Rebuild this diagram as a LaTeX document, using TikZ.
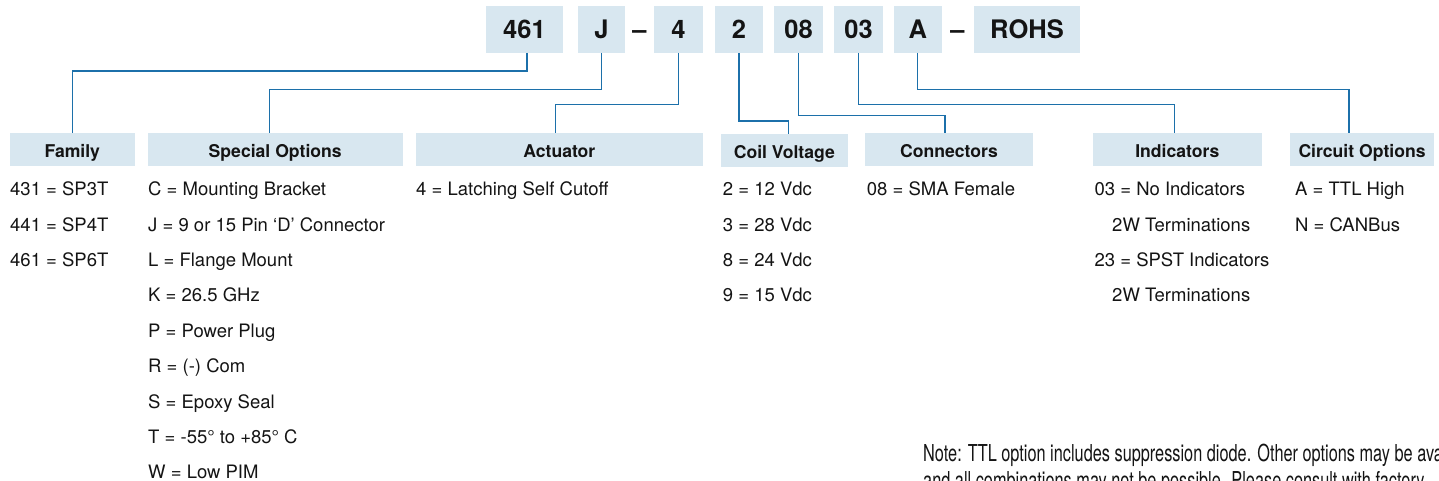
\documentclass[tikz,border=0pt]{standalone}
\usepackage{fontspec}
\setmainfont{TeX Gyre Heros}
\newfontfamily\notefont[FakeStretch=0.7]{TeX Gyre Heros}
\usetikzlibrary{calc}
\definecolor{boxfill}{RGB}{216,231,240}
\definecolor{linkblue}{RGB}{28,112,170}
\definecolor{ink}{RGB}{20,20,20}
\begin{document}
\begin{tikzpicture}[x=1pt,y=-1pt,
  codebox/.style={fill=boxfill, inner sep=0pt, font=\fontsize{25.5}{30}\selectfont\bfseries, text=ink, text height=18.3pt, text depth=0pt, minimum height=46.7pt},
  dashsym/.style={inner sep=0pt, font=\fontsize{25.5}{30}\selectfont\bfseries, text=ink, text height=18.3pt, text depth=0pt},
  headbox/.style={fill=boxfill, inner sep=0pt, font=\fontsize{17.6}{20}\selectfont\bfseries, text=ink, text height=15.6pt, text depth=0pt, minimum height=33pt},
  item/.style={anchor=base west, inner sep=0pt, font=\fontsize{18.5}{22}\selectfont, text=ink},
  notetext/.style={anchor=base west, inner sep=0pt, font=\notefont\fontsize{23.3}{27}\selectfont, text=ink},
  link/.style={draw=linkblue, line width=1.4pt}]
\useasboundingbox (0,0) rectangle (1439,480);
\clip (0,0) rectangle (1439,480);

% top code boxes
\node[codebox, minimum width=77pt]   (b461)  at (524.5,29.35) {461};
\node[codebox, minimum width=47.3pt] (bJ)    at (601.35,29.35) {J};
\node[dashsym]                       (d1)    at (639.5,29.35) {–};
\node[codebox, minimum width=49pt]   (b4)    at (678.5,29.35) {4};
\node[codebox, minimum width=48pt]   (b2)    at (739,29.35) {2};
\node[codebox, minimum width=49pt]   (b08)   at (798.5,29.35) {08};
\node[codebox, minimum width=49pt]   (b03)   at (858.5,29.35) {03};
\node[codebox, minimum width=47.5pt] (bA)    at (917.75,29.35) {A};
\node[dashsym]                       (d2)    at (957.5,29.35) {–};
\node[codebox, minimum width=106pt]  (bROHS) at (1027,29.35) {ROHS};

% header boxes
\node[headbox, minimum width=124.5pt] (hFam)  at (72.25,149.5) {Family};
\node[headbox, minimum width=255pt]   (hSpec) at (275.2,149.5) {Special Options};
\node[headbox, minimum width=286.7pt] (hAct)  at (559.35,149.5) {Actuator};
\node[headbox, minimum width=126.7pt] (hCoil) at (784.35,150.3) {Coil Voltage};
\node[headbox, minimum width=168pt]   (hConn) at (949,149.5) {Connectors};
\node[headbox, minimum width=169.4pt] (hInd)  at (1177.3,149.5) {Indicators};
\node[headbox, minimum width=144pt]   (hCirc) at (1362,149.5) {Circuit Options};

% connectors
\draw[link] ([xshift=2.5pt]b461.south) -- ++(0,18) -| (hFam.north);
\draw[link] (bJ.south) -- ++(0,36.6) -| ([xshift=-6pt]hSpec.north);
\draw[link] (b4.south) -- ++(0,51.6) -| ([xshift=-4pt]hAct.north);
\draw[link] (b2.south) -- ++(0,68) -| ([xshift=4pt]hCoil.north);
\draw[link] (b08.south) -- ++(0,62.3) -| ([xshift=-4pt]hConn.north);
\draw[link] (b03.south) -- ++(0,51.3) -| ([xshift=-3pt]hInd.north);
\draw[link] (bA.south) -- ++(0,36.6) -| ([xshift=-13pt]hCirc.north);

% Family
\node[item] (f1) at (10,195.7) {431 = SP3T};
\node[item] (f2) at (10,231.1) {441 = SP4T};
\node[item] (f3) at (10,266.5) {461 = SP6T};
% Special options
\node[item] (s1) at (148,195.7) {C = Mounting Bracket};
\node[item] (s2) at (148,231.1) {J = 9 or 15 Pin ‘D’ Connector};
\node[item] (s3) at (148,266.5) {L = Flange Mount};
\node[item] (s4) at (148,301.9) {K = 26.5 GHz};
\node[item] (s5) at (148,337.3) {P = Power Plug};
\node[item] (s6) at (148,372.7) {R = (-) Com};
\node[item] (s7) at (148,408.1) {S = Epoxy Seal};
\node[item] (s8) at (148,443.5) {T = -55° to +85° C};
\node[item] (s9) at (148,478.9) {W = Low PIM};
% Actuator
\node[item] (a1) at (416,195.7) {4 = Latching Self Cutoff};
% Coil voltage
\node[item] (c1) at (722.7,195.7) {2 = 12 Vdc};
\node[item] (c2) at (722.7,231.1) {3 = 28 Vdc};
\node[item] (c3) at (722.7,266.5) {8 = 24 Vdc};
\node[item] (c4) at (722.7,301.9) {9 = 15 Vdc};
% Connectors
\node[item] (n1) at (866.7,195.7) {08 = SMA Female};
% Indicators
\node[item] (i1) at (1094.4,195.7) {03 = No Indicators};
\node[item] (i2) at (1112,231.1) {2W Terminations};
\node[item] (i3) at (1094.4,266.5) {23 = SPST Indicators};
\node[item] (i4) at (1112,301.9) {2W Terminations};
% Circuit options
\node[item] (o1) at (1295,195.7) {A = TTL High};
\node[item] (o2) at (1295,231.1) {N = CANBus};

% note
\node[notetext] (note1) at (923,461.7) {Note: TTL option includes suppression diode. Other options may be available};
\node[notetext] (note2) at (923,488.7) {and all combinations may not be possible. Please consult with factory.};
\end{tikzpicture}
\end{document}
